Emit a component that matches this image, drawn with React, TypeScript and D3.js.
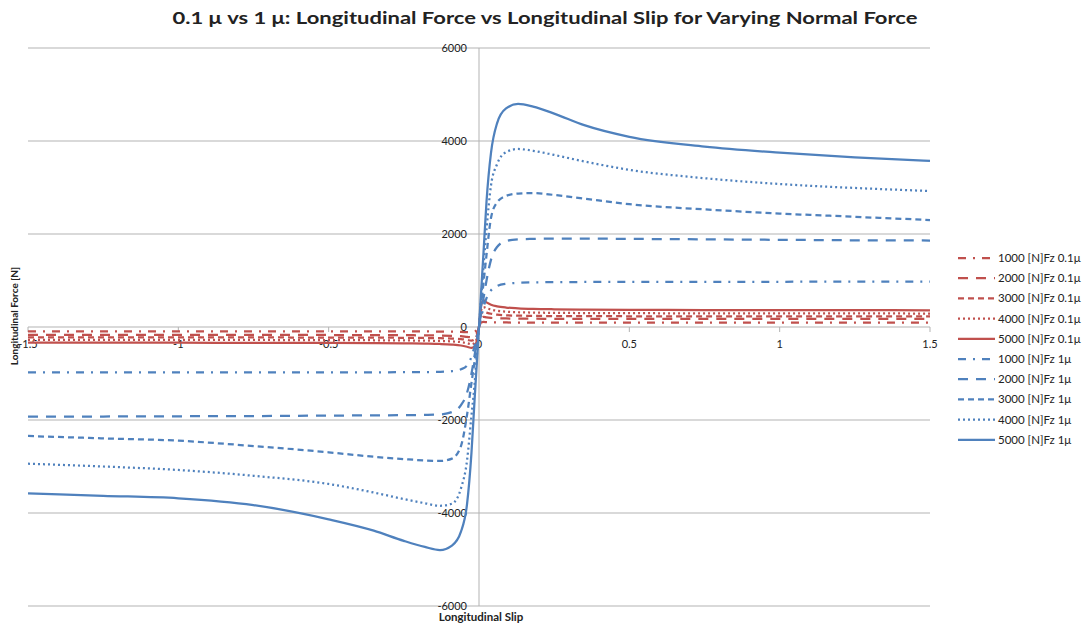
import React, { useEffect, useRef } from 'react';
import * as d3 from 'd3';

// longitudinal slip samples (shared by every series)
const slip = [-1.5, -1.25, -1, -0.75, -0.5, -0.35, -0.25, -0.18, -0.13, -0.09, -0.06, -0.04, -0.025, -0.015, -0.007, 0,
  0.007, 0.015, 0.025, 0.04, 0.06, 0.09, 0.13, 0.18, 0.25, 0.35, 0.5, 0.75, 1, 1.25, 1.5];

// 0.1 mu
const red1000 = [-92, -92, -92, -93, -93, -94, -95, -96, -98, -101, -105, -110, -113, -100, -65, 0,
  95, 108, 104, 100, 98, 97, 96, 96, 96, 96, 96, 96, 96, 96, 96];
const red2000 = [-168, -169, -170, -171, -172, -174, -176, -179, -183, -189, -198, -212, -222, -200, -130, 0,
  190, 220, 208, 196, 188, 183, 180, 178, 177, 176, 176, 175, 175, 175, 175];
const red3000 = [-222, -223, -224, -225, -227, -229, -232, -236, -240, -248, -260, -278, -295, -270, -180, 0,
  280, 330, 310, 285, 265, 252, 244, 239, 235, 233, 231, 230, 229, 228, 228];
const red4000 = [-275, -276, -277, -279, -282, -285, -289, -294, -300, -310, -325, -348, -370, -345, -235, 0,
  360, 430, 405, 375, 350, 330, 318, 310, 304, 300, 297, 294, 292, 291, 290];
const red5000 = [-335, -336, -338, -340, -343, -347, -352, -358, -365, -378, -398, -425, -450, -420, -290, 0,
  460, 570, 530, 480, 445, 418, 402, 390, 381, 374, 368, 365, 363, 361, 360];

// 1 mu
const blue1000 = [-975, -975, -975, -975, -975, -975, -972, -970, -965, -950, -910, -830, -640, -420, -200, 0,
  200, 420, 620, 790, 880, 930, 950, 960, 965, 968, 970, 972, 973, 974, 975];
const blue2000 = [-1928, -1925, -1920, -1915, -1905, -1900, -1895, -1890, -1880, -1830, -1680, -1420, -1000, -620, -300, 0,
  300, 620, 1000, 1450, 1720, 1850, 1885, 1895, 1900, 1900, 1895, 1885, 1875, 1865, 1860];
const blue3000 = [-2344, -2395, -2445, -2560, -2695, -2790, -2840, -2870, -2880, -2830, -2560, -1900, -1200, -750, -350, 0,
  450, 950, 1550, 2350, 2680, 2820, 2870, 2880, 2840, 2760, 2640, 2530, 2440, 2370, 2300];
const blue4000 = [-2940, -3000, -3075, -3200, -3376, -3560, -3700, -3790, -3845, -3800, -3470, -2880, -1900, -1250, -600, 0,
  600, 1300, 2100, 3050, 3500, 3760, 3828, 3790, 3700, 3560, 3380, 3200, 3075, 2990, 2925];
const blue5000 = [-3577, -3630, -3684, -3830, -4136, -4380, -4600, -4730, -4796, -4700, -4400, -3820, -2700, -1600, -750, 0,
  750, 1600, 2700, 3750, 4380, 4700, 4796, 4740, 4590, 4340, 4090, 3880, 3750, 3650, 3570];

const xTicks = [-1.5, -1, -0.5, 0, 0.5, 1, 1.5];
const yTicks = [-6000, -4000, -2000, 0, 2000, 4000, 6000];

const RED = '#C0504D';
const BLUE = '#4F81BD';
const dashes: Record<string, string> = {
  '1000': '8,7,2,7',
  '2000': '10,8',
  '3000': '6,4',
  '4000': '2,3',
  '5000': '',
};

const series = [
  { name: '1000 [N]Fz 0.1μ', values: red1000, color: RED, dash: dashes['1000'] },
  { name: '2000 [N]Fz 0.1μ', values: red2000, color: RED, dash: dashes['2000'] },
  { name: '3000 [N]Fz 0.1μ', values: red3000, color: RED, dash: dashes['3000'] },
  { name: '4000 [N]Fz 0.1μ', values: red4000, color: RED, dash: dashes['4000'] },
  { name: '5000 [N]Fz 0.1μ', values: red5000, color: RED, dash: dashes['5000'] },
  { name: '1000 [N]Fz 1μ', values: blue1000, color: BLUE, dash: dashes['1000'] },
  { name: '2000 [N]Fz 1μ', values: blue2000, color: BLUE, dash: dashes['2000'] },
  { name: '3000 [N]Fz 1μ', values: blue3000, color: BLUE, dash: dashes['3000'] },
  { name: '4000 [N]Fz 1μ', values: blue4000, color: BLUE, dash: dashes['4000'] },
  { name: '5000 [N]Fz 1μ', values: blue5000, color: BLUE, dash: dashes['5000'] },
];

const W = 1083;
const H = 625;
const FONT = 'Lato, "Open Sans", sans-serif';

export default function App() {
  const svgRef = useRef<SVGSVGElement>(null);

  useEffect(() => {
    if (!svgRef.current) return;
    const svg = d3.select(svgRef.current);
    svg.selectAll('*').remove();

    const x = d3.scaleLinear().domain([-1.5, 1.5]).range([28, 930]);
    const y = d3.scaleLinear().domain([-6000, 6000]).range([606, 48]);

    // title
    svg.append('text')
      .attr('x', 545)
      .attr('y', 24)
      .attr('text-anchor', 'middle')
      .attr('font-family', FONT)
      .attr('font-weight', 'bold')
      .attr('font-size', 17.5)
      .attr('fill', '#222')
      .attr('textLength', 745)
      .attr('lengthAdjust', 'spacingAndGlyphs')
      .text('0.1 μ vs 1 μ: Longitudinal Force vs Longitudinal Slip for Varying Normal Force');

    // horizontal gridlines
    svg.append('g')
      .selectAll('line')
      .data(yTicks)
      .join('line')
      .attr('x1', x(-1.5))
      .attr('x2', x(1.5))
      .attr('y1', d => y(d))
      .attr('y2', d => y(d))
      .attr('stroke', '#b3b3b3')
      .attr('stroke-width', 1);

    // y axis (at slip 0)
    svg.append('line')
      .attr('x1', x(0)).attr('x2', x(0))
      .attr('y1', y(6000)).attr('y2', y(-6000))
      .attr('stroke', '#b3b3b3')
      .attr('stroke-width', 1);

    // x ticks
    svg.append('g')
      .selectAll('line')
      .data(xTicks)
      .join('line')
      .attr('x1', d => x(d)).attr('x2', d => x(d))
      .attr('y1', y(0)).attr('y2', y(0) + 5)
      .attr('stroke', '#b3b3b3');

    // y tick labels
    svg.append('g')
      .selectAll('text')
      .data(yTicks)
      .join('text')
      .attr('x', x(0) - 12)
      .attr('y', d => y(d) + 4)
      .attr('text-anchor', 'end')
      .attr('font-family', FONT)
      .attr('font-size', 11)
      .attr('fill', '#222')
      .text(d => String(d));

    // x tick labels
    svg.append('g')
      .selectAll('text')
      .data(xTicks)
      .join('text')
      .attr('x', d => x(d))
      .attr('y', y(0) + 21)
      .attr('text-anchor', 'middle')
      .attr('font-family', FONT)
      .attr('font-size', 11)
      .attr('fill', '#222')
      .text(d => String(d));

    // axis titles
    svg.append('text')
      .attr('x', (x(-1.5) + x(1.5)) / 2 + 2)
      .attr('y', 621)
      .attr('text-anchor', 'middle')
      .attr('font-family', FONT)
      .attr('font-weight', 'bold')
      .attr('font-size', 11.5)
      .attr('fill', '#222')
      .text('Longitudinal Slip');

    svg.append('text')
      .attr('transform', 'translate(18,316) rotate(-90)')
      .attr('text-anchor', 'middle')
      .attr('font-family', FONT)
      .attr('font-weight', 'bold')
      .attr('font-size', 10)
      .attr('fill', '#222')
      .text('Longitudinal Force [N]');

    // series
    const line = d3.line<number>()
      .x((_: number, i: number) => x(slip[i]))
      .y((d: number) => y(d))
      .curve(d3.curveMonotoneX);

    series.forEach(s => {
      svg.append('path')
        .datum(s.values)
        .attr('fill', 'none')
        .attr('stroke', s.color)
        .attr('stroke-width', 2.25)
        .attr('stroke-dasharray', s.dash || null)
        .attr('d', line);
    });

    // legend
    const legend = svg.append('g');
    series.forEach((s, i) => {
      const ly = 258 + i * 20.2;
      legend.append('line')
        .attr('x1', 958).attr('x2', 995)
        .attr('y1', ly).attr('y2', ly)
        .attr('stroke', s.color)
        .attr('stroke-width', 2.25)
        .attr('stroke-dasharray', s.dash || null);
      legend.append('text')
        .attr('x', 998)
        .attr('y', ly + 4)
        .attr('font-family', FONT)
        .attr('font-size', 11.5)
        .attr('fill', '#222')
        .text(s.name);
    });
  }, []);

  return (
    <div style={{ position: 'absolute', left: 0, top: 0, width: W, height: H, background: '#fff' }}>
      <svg ref={svgRef} width={W} height={H} />
    </div>
  );
}
